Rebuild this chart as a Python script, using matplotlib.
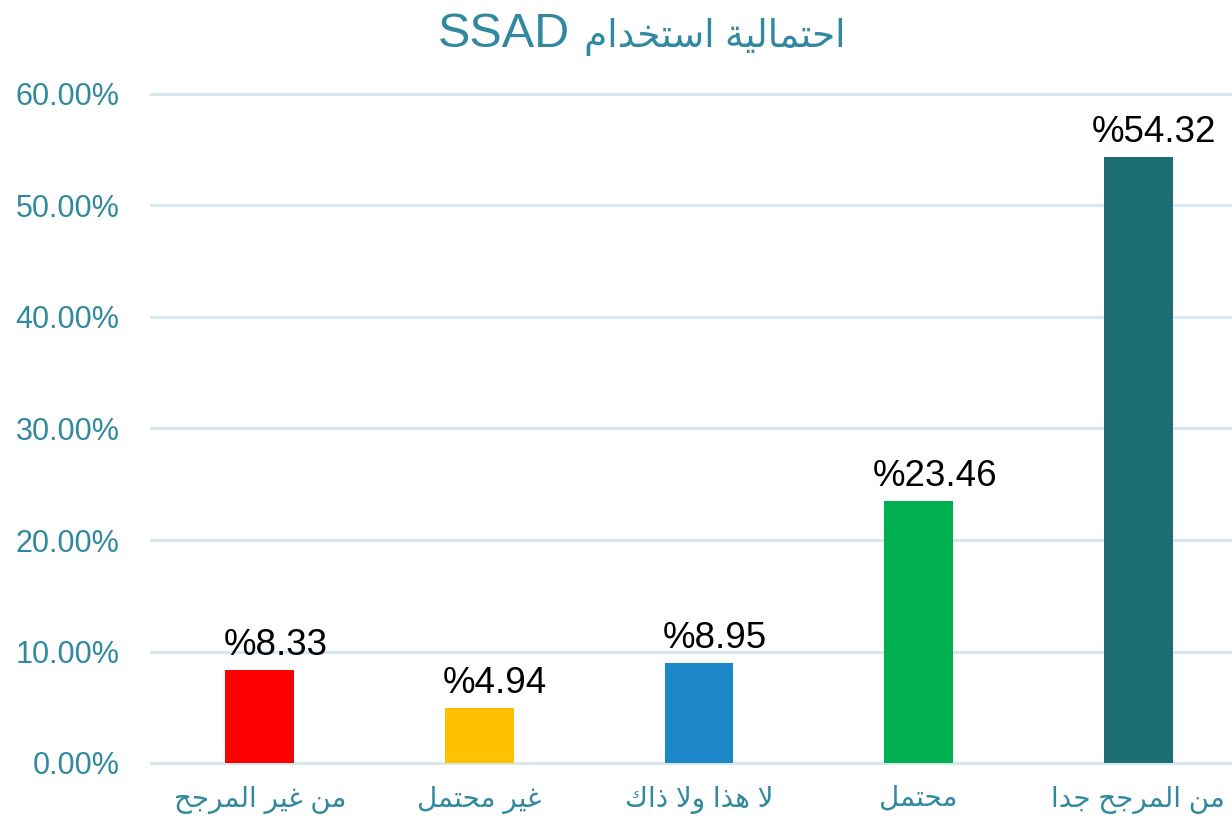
import matplotlib
matplotlib.use("Agg")
import matplotlib.pyplot as plt

categories = ["من غير المرجح", "غير محتمل", "لا هذا ولا ذاك", "محتمل", "من المرجح جدا"]
values = [8.33, 4.94, 8.95, 23.46, 54.32]
value_labels = ["%8.33", "%4.94", "%8.95", "%23.46", "%54.32"]
bar_colors = ["#FF0000", "#FFC000", "#1C87C9", "#00B050", "#1C6E73"]
yticks = [0, 10, 20, 30, 40, 50, 60]
ytick_labels = ["0.00%", "10.00%", "20.00%", "30.00%", "40.00%", "50.00%", "60.00%"]
title_ar = "احتمالية استخدام"
title_lat = "SSAD"

# --- minimal Arabic shaping (presentation forms) + RTL ordering ---
FORMS = {
    'ا': (0xFE8D, 0xFE8E, None, None),
    'ب': (0xFE8F, 0xFE90, 0xFE91, 0xFE92),
    'ة': (0xFE93, 0xFE94, None, None),
    'ت': (0xFE95, 0xFE96, 0xFE97, 0xFE98),
    'ج': (0xFE9D, 0xFE9E, 0xFE9F, 0xFEA0),
    'ح': (0xFEA1, 0xFEA2, 0xFEA3, 0xFEA4),
    'خ': (0xFEA5, 0xFEA6, 0xFEA7, 0xFEA8),
    'د': (0xFEA9, 0xFEAA, None, None),
    'ذ': (0xFEAB, 0xFEAC, None, None),
    'ر': (0xFEAD, 0xFEAE, None, None),
    'س': (0xFEB1, 0xFEB2, 0xFEB3, 0xFEB4),
    'غ': (0xFECD, 0xFECE, 0xFECF, 0xFED0),
    'ك': (0xFED9, 0xFEDA, 0xFEDB, 0xFEDC),
    'ل': (0xFEDD, 0xFEDE, 0xFEDF, 0xFEE0),
    'م': (0xFEE1, 0xFEE2, 0xFEE3, 0xFEE4),
    'ن': (0xFEE5, 0xFEE6, 0xFEE7, 0xFEE8),
    'ه': (0xFEE9, 0xFEEA, 0xFEEB, 0xFEEC),
    'و': (0xFEED, 0xFEEE, None, None),
    'ي': (0xFEF1, 0xFEF2, 0xFEF3, 0xFEF4),
    'لا': (0xFEFB, 0xFEFC, None, None),
}


def shape_word(w):
    units = []
    i = 0
    while i < len(w):
        if w[i] == 'ل' and i + 1 < len(w) and w[i + 1] == 'ا':
            units.append('لا')
            i += 2
        else:
            units.append(w[i])
            i += 1
    out = []
    for k, u in enumerate(units):
        f = FORMS.get(u)
        if f is None:
            out.append(u)
            continue
        prev = units[k - 1] if k > 0 else None
        nxt = units[k + 1] if k + 1 < len(units) else None
        jp = prev is not None and prev in FORMS and FORMS[prev][2] is not None
        jn = f[2] is not None and nxt is not None and nxt in FORMS
        if jp and jn:
            c = f[3]
        elif jp:
            c = f[1]
        elif jn:
            c = f[2]
        else:
            c = f[0]
        out.append(chr(c))
    return ''.join(out)


def rtl(s):
    toks = s.split(' ')
    res = []
    for t in reversed(toks):
        if any(ch in FORMS for ch in t):
            res.append(shape_word(t)[::-1])
        else:
            res.append(t)
    return ' '.join(res)


FONT = ['Liberation Sans', 'DejaVu Sans']
TEAL = '#31899F'
GRID = '#D3E7EF'

fig = plt.figure(figsize=(12.32, 8.19), dpi=100)
W, H = 1232, 819
ppu = (763 - 94) / 60.0
ymin, ymax = -0.3, 60.3
bottom_px = 763 + 0.3 * ppu
top_px = 94 - 0.3 * ppu
left_px, right_px = 150, 150 + 5 * 219.6
ax = fig.add_axes([left_px / W, (H - bottom_px) / H, (right_px - left_px) / W, (bottom_px - top_px) / H])

x = list(range(len(categories)))
ax.bar(x, values, width=0.314, color=bar_colors, zorder=3)
ax.set_xlim(-0.5, len(categories) - 0.5)
ax.set_ylim(ymin, ymax)

for s in ax.spines.values():
    s.set_visible(False)
ax.set_yticks(yticks)
ax.set_yticklabels(ytick_labels, fontsize=22, color=TEAL, family=FONT)
ax.yaxis.grid(True, color=GRID, linewidth=2, zorder=0)
ax.set_axisbelow(True)
ax.tick_params(axis='y', length=0, pad=22)
ax.set_xticks(x)
ax.set_xticklabels([rtl(c) for c in categories], fontsize=20, color=TEAL, family=FONT)
ax.tick_params(axis='x', length=0, pad=14)

for xi, v, lab in zip(x, values, value_labels):
    ax.annotate(lab, (xi, v), xytext=(11.5, 11), textcoords='offset points',
                ha='center', va='baseline', fontsize=26.5, color='black', family=FONT)

fig.text(438 / W, 1 - 47 / H, title_lat, ha='left', va='baseline', fontsize=35, color=TEAL, family=FONT)
fig.text(846 / W, 1 - 47 / H, rtl(title_ar), ha='right', va='baseline', fontsize=27, color=TEAL, family=FONT)

fig.savefig('out.png', dpi=100)
